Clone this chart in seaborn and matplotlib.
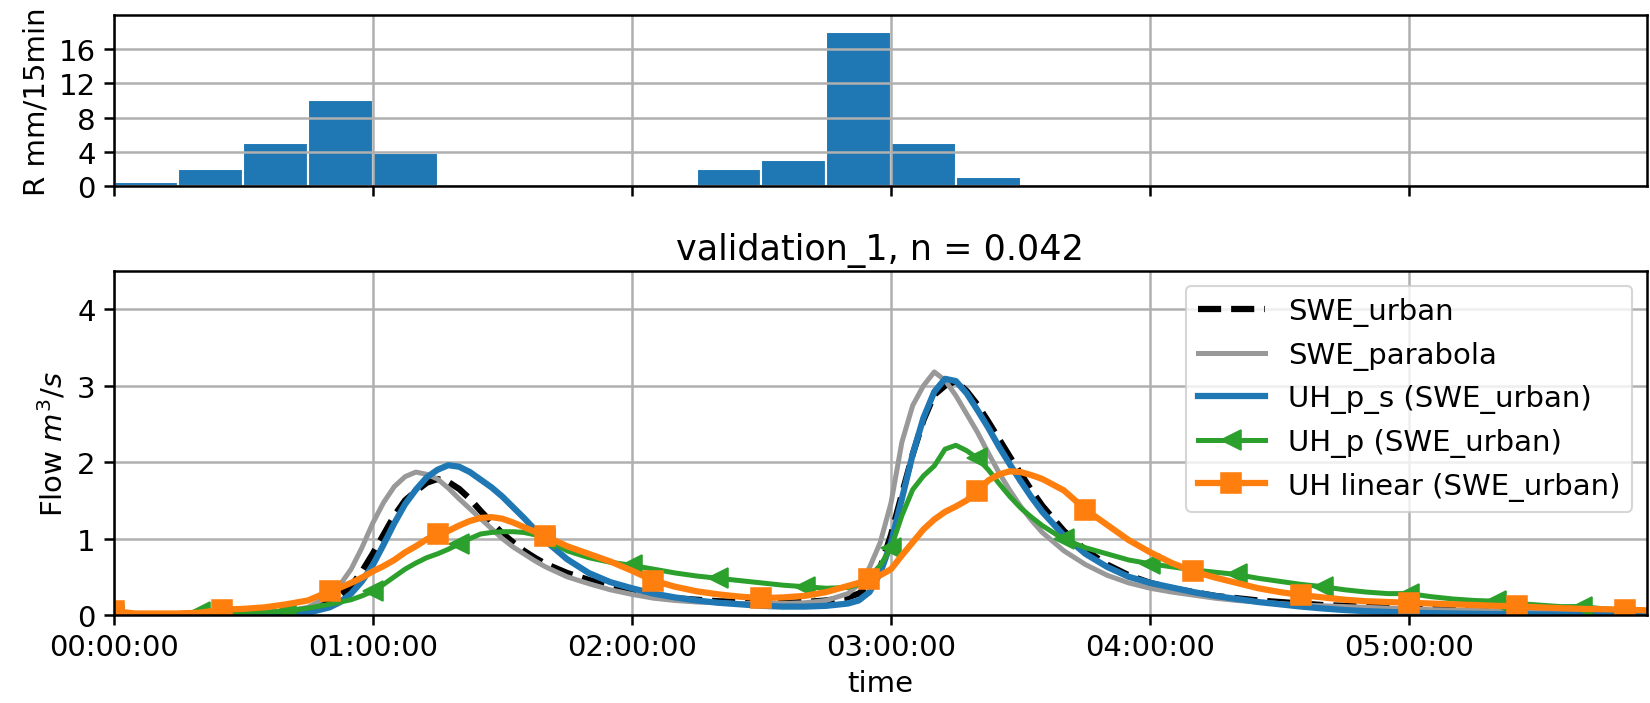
import numpy as np
import pandas as pd
import matplotlib
matplotlib.use("Agg")
import matplotlib.pyplot as plt
from matplotlib.ticker import FuncFormatter, MultipleLocator
import seaborn as sns

# ---- rainfall, mm per 15 minute interval (interval start in minutes) ----
rain_start = np.arange(0, 360, 15)
rain_mm = [0.5, 2.0, 5.0, 10.0, 3.8, 0, 0, 0, 0, 2.0, 3.0, 18.0,
           5.0, 1.0, 0, 0, 0, 0, 0, 0, 0, 0, 0, 0]

# ---- discharge series (minutes); finer sampling around the two peaks ----
t_min = np.concatenate([np.arange(0, 50, 5), np.arange(50, 100.1, 2.5),
                        np.arange(105, 170, 5), np.arange(170, 215.1, 2.5),
                        np.arange(220, 356, 5)])

swe_urban = [0, 0, 0, 0, 0, 0.005, 0.01, 0.02, 0.04, 0.08,
             0.17, 0.26, 0.38, 0.57, 0.8, 1.05, 1.3, 1.5, 1.62, 1.73, 1.78,
             1.74, 1.65, 1.52, 1.36, 1.21, 1.07, 0.95, 0.84, 0.75, 0.67,
             0.55, 0.46, 0.38, 0.31, 0.26, 0.22, 0.2, 0.18, 0.17, 0.16, 0.16, 0.17, 0.19,
             0.23, 0.28, 0.38, 0.62, 1.05, 1.58, 2.1, 2.55, 2.88, 3.0, 3.06,
             2.93, 2.75, 2.53, 2.3, 2.07, 1.85, 1.63, 1.43,
             1.1, 0.85, 0.66, 0.52, 0.42, 0.35, 0.3, 0.25, 0.22, 0.19, 0.17, 0.15,
             0.13, 0.12, 0.11, 0.1, 0.09, 0.08, 0.075, 0.07, 0.065, 0.06, 0.055, 0.05,
             0.05, 0.045, 0.04, 0.04]

swe_parabola = [0, 0, 0, 0, 0.005, 0.01, 0.02, 0.03, 0.05, 0.1,
                0.25, 0.4, 0.6, 0.88, 1.2, 1.47, 1.68, 1.81, 1.87, 1.84, 1.78,
                1.66, 1.52, 1.39, 1.26, 1.13, 1.0, 0.89, 0.8, 0.71, 0.63,
                0.5, 0.41, 0.33, 0.27, 0.22, 0.19, 0.17, 0.16, 0.15, 0.15, 0.15, 0.16, 0.19,
                0.28, 0.4, 0.62, 0.95, 1.47, 2.26, 2.74, 3.0, 3.18, 3.07, 2.87,
                2.63, 2.39, 2.12, 1.86, 1.63, 1.42, 1.24, 1.08,
                0.84, 0.66, 0.52, 0.42, 0.35, 0.3, 0.26, 0.22, 0.19, 0.17, 0.15, 0.13,
                0.12, 0.11, 0.1, 0.09, 0.08, 0.07, 0.065, 0.06, 0.055, 0.05, 0.045, 0.04,
                0.04, 0.035, 0.03, 0.03]

uh_p_s = [0, 0, 0, 0, 0, 0, 0, 0, 0.005, 0.03,
          0.1, 0.17, 0.28, 0.44, 0.65, 0.92, 1.2, 1.45, 1.64, 1.8, 1.9,
          1.96, 1.94, 1.87, 1.77, 1.67, 1.55, 1.41, 1.27, 1.12, 0.97,
          0.73, 0.55, 0.43, 0.35, 0.28, 0.23, 0.19, 0.16, 0.14, 0.12, 0.11, 0.11, 0.12,
          0.15, 0.19, 0.3, 0.55, 0.95, 1.52, 2.1, 2.58, 2.92, 3.09, 3.06,
          2.9, 2.68, 2.45, 2.2, 1.97, 1.75, 1.54, 1.35,
          1.04, 0.8, 0.63, 0.5, 0.42, 0.36, 0.3, 0.25, 0.21, 0.17, 0.14, 0.11,
          0.085, 0.065, 0.05, 0.04, 0.03, 0.025, 0.02, 0.015, 0.012, 0.01, 0.008, 0.006,
          0.005, 0.004, 0.003, 0.003]

uh_p = [0, 0.005, 0.01, 0.02, 0.04, 0.035, 0.035, 0.04, 0.05, 0.09,
        0.14, 0.17, 0.2, 0.25, 0.31, 0.4, 0.5, 0.6, 0.68, 0.75, 0.8,
        0.86, 0.93, 1.0, 1.06, 1.08, 1.09, 1.09, 1.08, 1.05, 1.0,
        0.84, 0.75, 0.69, 0.65, 0.6, 0.55, 0.51, 0.48, 0.45, 0.42, 0.39, 0.37, 0.35,
        0.36, 0.4, 0.5, 0.65, 0.88, 1.3, 1.64, 1.82, 1.95, 2.17, 2.22,
        2.15, 2.05, 1.9, 1.72, 1.55, 1.4, 1.28, 1.17,
        0.99, 0.88, 0.8, 0.72, 0.67, 0.63, 0.59, 0.56, 0.53, 0.48, 0.44, 0.4,
        0.37, 0.33, 0.3, 0.28, 0.28, 0.24, 0.21, 0.19, 0.18, 0.15, 0.13, 0.11,
        0.11, 0.08, 0.07, 0.06]

uh_linear = [0.05, 0.02, 0.02, 0.02, 0.03, 0.07, 0.08, 0.1, 0.14, 0.19,
             0.31, 0.36, 0.42, 0.49, 0.57, 0.64, 0.72, 0.82, 0.9, 0.99, 1.06,
             1.1, 1.17, 1.23, 1.27, 1.28, 1.26, 1.21, 1.15, 1.09, 1.03,
             0.9, 0.8, 0.7, 0.58, 0.45, 0.37, 0.31, 0.27, 0.24, 0.22, 0.23, 0.25, 0.3,
             0.38, 0.42, 0.47, 0.52, 0.6, 0.78, 0.95, 1.12, 1.25, 1.35, 1.42,
             1.5, 1.62, 1.76, 1.84, 1.88, 1.87, 1.83, 1.78,
             1.63, 1.38, 1.18, 0.98, 0.82, 0.68, 0.57, 0.49, 0.42, 0.35, 0.3, 0.26,
             0.23, 0.2, 0.18, 0.17, 0.16, 0.15, 0.14, 0.13, 0.12, 0.115, 0.1, 0.09,
             0.08, 0.075, 0.07, 0.06]

rain_df = pd.DataFrame({"start": rain_start, "mm": rain_mm})

# markers every 20 min (UH_p) and every 25 min (UH linear)
mark_p = [i for i, t in enumerate(t_min) if t % 20 == 0]
mark_lin = [i for i, t in enumerate(t_min) if t % 25 == 0]

plt.rcParams["font.family"] = ["DejaVu Sans"]
plt.rcParams["font.size"] = 14
plt.rcParams["axes.linewidth"] = 1.2
plt.rcParams["xtick.major.width"] = 1.2
plt.rcParams["ytick.major.width"] = 1.2
plt.rcParams["xtick.major.size"] = 5
plt.rcParams["ytick.major.size"] = 5

fig = plt.figure(figsize=(11, 4.6933), dpi=150)
ax_r = fig.add_axes([0.0688, 0.7344, 0.9294, 0.2429])
ax_q = fig.add_axes([0.0688, 0.125, 0.9294, 0.4886], sharex=ax_r)

grid_kw = dict(color="#b0b0b0", linewidth=1.2)

# rainfall hyetograph
sns.histplot(data=rain_df, x="start", weights="mm", binwidth=15,
             binrange=(0, 360), color="#1f77b4", alpha=1.0,
             edgecolor="white", linewidth=1.0, ax=ax_r)
ax_r.set_ylim(0, 20)
ax_r.set_yticks([0, 4, 8, 12, 16])
ax_r.set_ylabel("R mm/15min")
ax_r.set_xlabel("")
ax_r.grid(True, **grid_kw)
ax_r.tick_params(labelbottom=False)

# discharge hydrographs
sns.lineplot(x=t_min, y=swe_urban, ax=ax_q, color="black", linestyle="--",
             linewidth=3, label="SWE_urban")
sns.lineplot(x=t_min, y=swe_parabola, ax=ax_q, color="#999999",
             linewidth=2.4, label="SWE_parabola")
sns.lineplot(x=t_min, y=uh_p_s, ax=ax_q, color="#1f77b4",
             linewidth=3, label="UH_p_s (SWE_urban)")
sns.lineplot(x=t_min, y=uh_p, ax=ax_q, color="#2ca02c", linewidth=2.4,
             marker="<", markersize=9.5, markevery=mark_p, markeredgecolor="#2ca02c",
             label="UH_p (SWE_urban)")
sns.lineplot(x=t_min, y=uh_linear, ax=ax_q, color="#ff7f0e", linewidth=3,
             marker="s", markersize=10, markevery=mark_lin, markeredgecolor="#ff7f0e",
             label="UH linear (SWE_urban)")

ax_q.set_ylim(0, 4.5)
ax_q.set_yticks([0, 1, 2, 3, 4])
ax_q.set_ylabel(r"Flow $m^3/s$")
ax_q.set_xlabel("time")
ax_q.set_title("validation_1, n = 0.042")
ax_q.grid(True, **grid_kw)
ax_q.legend(loc="upper right", handlelength=2.3)


def hms(v, pos):
    m = int(round(v))
    return f"{m // 60:02d}:{m % 60:02d}:00"


ax_q.xaxis.set_major_locator(MultipleLocator(60))
ax_q.xaxis.set_major_formatter(FuncFormatter(hms))
ax_q.set_xlim(0, 355)

fig.savefig("out.png", dpi=150)
